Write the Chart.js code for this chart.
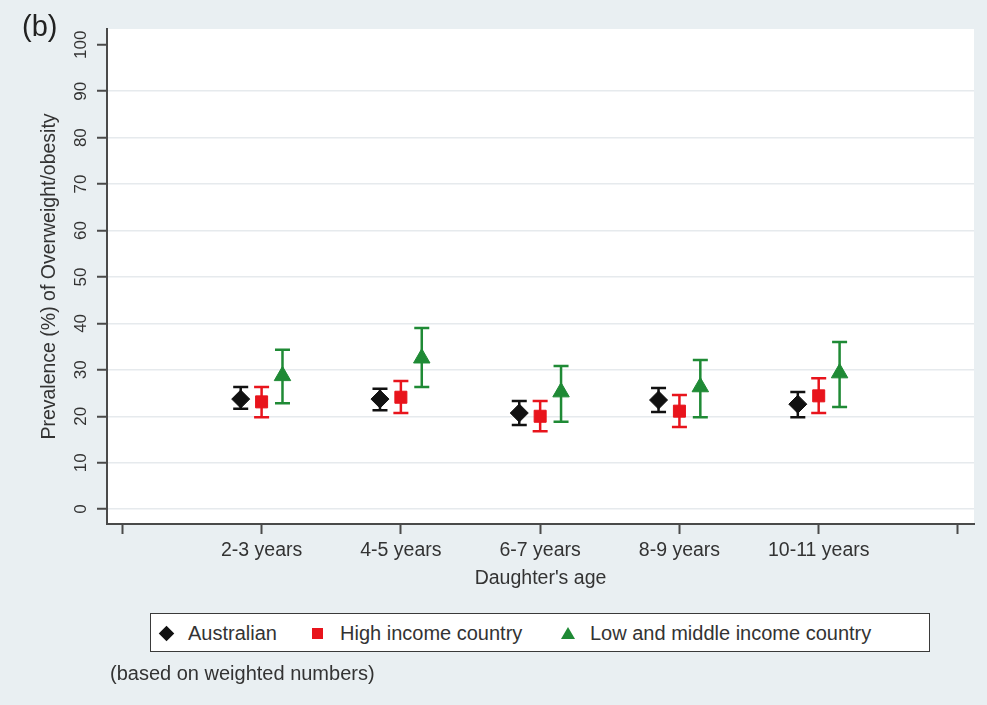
<!DOCTYPE html>
<html>
<head>
<meta charset="utf-8">
<title>Prevalence of overweight/obesity by daughter's age</title>
<script src="https://cdn.jsdelivr.net/npm/chart.js@4.4.1/dist/chart.umd.min.js"></script>
<style>
  html, body { margin: 0; padding: 0; }
  body {
    width: 987px; height: 705px; position: relative; overflow: hidden;
    background: #e9eff2;
    font-family: "Liberation Sans", Arial, Helvetica, sans-serif;
    color: #333;
  }
  #chart { position: absolute; left: 0; top: 0; }
  .txt { position: absolute; white-space: nowrap; }
  #panel { left: 22px; top: 12px; font-size: 29px; line-height: 29px; color: #222; }
  #legendBox {
    position: absolute; left: 150px; top: 613px; width: 780px; height: 39px;
    box-sizing: border-box; border: 1.5px solid #3a3a3a; background: #fff;
  }
  .lg { font-size: 20px; line-height: 20px; top: 623px; }
  .mk { position: absolute; }
  #mkAus { left: 160.5px; top: 627.5px; width: 11px; height: 11px; background: #111; transform: rotate(45deg); }
  #mkHigh { left: 311.5px; top: 627.5px; width: 11px; height: 11px; background: #e8141c; }
  #mkLow { left: 561px; top: 627px; width: 0; height: 0;
    border-left: 7px solid transparent; border-right: 7px solid transparent; border-bottom: 12px solid #1f8a35; }
  #note { left: 110px; top: 663px; font-size: 20px; line-height: 20px; }
</style>
</head>
<body>
<canvas id="chart" width="987" height="705"></canvas>
<div id="panel" class="txt">(b)</div>
<div id="legendBox"></div>
<div id="mkAus" class="mk"></div>
<div class="txt lg" style="left:188px">Australian</div>
<div id="mkHigh" class="mk"></div>
<div class="txt lg" style="left:340px">High income country</div>
<div id="mkLow" class="mk"></div>
<div class="txt lg" style="left:590px">Low and middle income country</div>
<div id="note" class="txt">(based on weighted numbers)</div>

<script>
// Age groups along the x axis (placed at 1..5; 0 and 6 are unlabeled end ticks)
const categories = ['2-3 years', '4-5 years', '6-7 years', '8-9 years', '10-11 years'];
const xTicks = [0, 1, 2, 3, 4, 5, 6];
const yTicks = [0, 10, 20, 30, 40, 50, 60, 70, 80, 90, 100];

// Prevalence (%) with 95% confidence limits
const australian     = [23.7, 23.7, 20.7, 23.5, 22.6];
const australianLow  = [21.6, 21.3, 18.1, 20.9, 19.8];
const australianHigh = [26.3, 25.9, 23.3, 26.1, 25.2];

const highIncome     = [23.1, 24.1, 20.0, 21.1, 24.4];
const highIncomeLow  = [19.8, 20.7, 16.8, 17.7, 20.7];
const highIncomeHigh = [26.3, 27.6, 23.3, 24.6, 28.2];

const lowMiddle      = [28.7, 32.5, 25.2, 26.3, 29.3];
const lowMiddleLow   = [22.8, 26.3, 18.8, 19.8, 22.0];
const lowMiddleHigh  = [34.3, 39.0, 30.8, 32.1, 36.0];

const FONT = '"Liberation Sans", Arial, Helvetica, sans-serif';
const AXIS = '#4a4a4a';
const TEXT = '#333';

Chart.defaults.font.family = FONT;
Chart.defaults.color = TEXT;

// Spread the three groups side by side around each age position
function atAge(values, shift) {
  return values.map((v, i) => ({ x: i + 1 + shift, y: v }));
}

// White plotting region
const plotBackground = {
  id: 'plotBackground',
  beforeDraw(chart) {
    const { ctx, chartArea: a } = chart;
    ctx.save();
    ctx.fillStyle = '#ffffff';
    ctx.fillRect(a.left, a.top, a.right - a.left, a.bottom - a.top);
    ctx.restore();
  }
};

// Capped vertical confidence interval bars, drawn beneath the markers
const errorBars = {
  id: 'errorBars',
  beforeDatasetsDraw(chart) {
    const ctx = chart.ctx;
    const yScale = chart.scales.y;
    const cap = 7.5;
    chart.data.datasets.forEach((ds, di) => {
      const meta = chart.getDatasetMeta(di);
      ctx.save();
      ctx.strokeStyle = ds.borderColor;
      ctx.lineWidth = 2.5;
      ctx.lineCap = 'butt';
      meta.data.forEach((pt, i) => {
        const top = yScale.getPixelForValue(ds.ciHigh[i]);
        const bot = yScale.getPixelForValue(ds.ciLow[i]);
        ctx.beginPath();
        ctx.moveTo(pt.x, top); ctx.lineTo(pt.x, bot);
        ctx.moveTo(pt.x - cap, top); ctx.lineTo(pt.x + cap, top);
        ctx.moveTo(pt.x - cap, bot); ctx.lineTo(pt.x + cap, bot);
        ctx.stroke();
      });
      ctx.restore();
    });
  }
};

new Chart(document.getElementById('chart'), {
  type: 'scatter',
  data: {
    datasets: [
      {
        label: 'Australian',
        data: atAge(australian, -0.15),
        ciLow: australianLow, ciHigh: australianHigh,
        pointStyle: 'rectRot', pointRadius: 9,
        backgroundColor: '#111111', borderColor: '#111111', borderWidth: 1
      },
      {
        label: 'High income country',
        data: atAge(highIncome, 0),
        ciLow: highIncomeLow, ciHigh: highIncomeHigh,
        pointStyle: 'rect', pointRadius: 8.5,
        backgroundColor: '#e8141c', borderColor: '#e8141c', borderWidth: 1
      },
      {
        label: 'Low and middle income country',
        data: atAge(lowMiddle, 0.15),
        ciLow: lowMiddleLow, ciHigh: lowMiddleHigh,
        pointStyle: 'triangle', pointRadius: 9.5,
        backgroundColor: '#1f8a35', borderColor: '#1f8a35', borderWidth: 1
      }
    ]
  },
  options: {
    responsive: false,
    animation: false,
    devicePixelRatio: 1,
    layout: { padding: { top: 29, right: 13, bottom: 0, left: 0 } },
    plugins: {
      legend: { display: false },
      tooltip: { enabled: false }
    },
    scales: {
      x: {
        type: 'linear',
        min: -0.11,
        max: 6.115,
        afterBuildTicks: s => { s.ticks = xTicks.map(v => ({ value: v })); },
        afterFit: s => { s.height = 181; },
        grid: { drawOnChartArea: false, tickColor: AXIS, tickLength: 10, tickWidth: 2 },
        border: { color: AXIS, width: 2 },
        ticks: {
          autoSkip: false, maxRotation: 0, padding: 5,
          font: { size: 19.5 }, color: TEXT,
          callback: v => categories[v - 1] ?? ''
        },
        title: {
          display: true, text: "Daughter's age",
          font: { size: 19.5 }, color: TEXT,
          padding: { top: 0, bottom: 115 }
        }
      },
      y: {
        type: 'linear',
        min: -3.2,
        max: 103.4,
        afterBuildTicks: s => { s.ticks = yTicks.map(v => ({ value: v })); },
        afterFit: s => { s.width = 107; },
        grid: {
          color: c => (c.tick && c.tick.value === 100) ? 'rgba(0,0,0,0)' : '#e6eaed',
          lineWidth: 1.5,
          tickColor: AXIS, tickLength: 10, tickWidth: 2
        },
        border: { color: AXIS, width: 2 },
        ticks: {
          autoSkip: false, minRotation: 90, maxRotation: 90,
          crossAlign: 'center', padding: 2,
          font: { size: 17 }, color: TEXT
        },
        title: {
          display: true, text: 'Prevalence (%) of Overweight/obesity',
          font: { size: 19.5 }, color: TEXT,
          padding: { top: 38, bottom: 0 }
        }
      }
    }
  },
  plugins: [plotBackground, errorBars]
});
</script>
</body>
</html>
